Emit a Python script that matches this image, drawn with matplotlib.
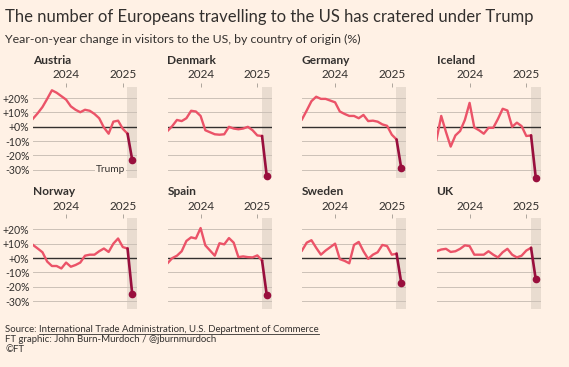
import numpy as np
import matplotlib
matplotlib.use("Agg")
import matplotlib.pyplot as plt
from matplotlib.lines import Line2D

plt.rcParams['font.family'] = ['Lato', 'DejaVu Sans']

# months relative to Jan 2024 (0 = Jan 2024), Jun 2023 .. Mar 2025
months = np.arange(-7, 15)

countries = ["Austria", "Denmark", "Germany", "Iceland",
             "Norway", "Spain", "Sweden", "UK"]

austria = [5.7, 9.5, 13.8, 19.5, 25.5, 23.8, 21.4, 19.0, 14.3, 11.9, 10.2,
           11.9, 11.2, 9.0, 6.0, -0.5, -4.8, 3.6, 4.3, -1.4, -4.8, -23.3]
denmark = [-2.9, 0.5, 4.8, 4.0, 6.0, 11.2, 10.7, 7.6, -2.4, -3.8, -5.2,
           -5.5, -5.2, 0.0, -1.2, -1.7, -1.2, 0.0, -2.4, -6.0, -6.4, -34.5]
germany = [5.2, 11.4, 17.9, 21.0, 19.5, 19.5, 18.3, 17.1, 10.7, 9.0, 7.6,
           7.6, 6.0, 8.3, 4.0, 4.3, 3.6, 1.7, 0.7, -5.5, -8.8, -29.0]
iceland = [-9.0, 7.6, -3.6, -13.8, -6.0, -2.9, 4.8, 16.7, -0.5, -2.4, -4.8,
           -0.7, -0.7, 5.5, 12.6, 11.4, 0.0, 2.9, 0.5, -6.4, -6.0, -35.5]
norway = [9.2, 6.7, 4.1, -2.4, -5.5, -5.5, -7.2, -3.1, -6.0, -4.8, -3.1,
          1.7, 2.4, 2.4, 4.8, 6.7, 4.3, 10.1, 13.7, 7.7, 6.7, -25.3]
spain = [-3.6, 0.0, 1.7, 4.8, 12.0, 14.5, 13.7, 21.0, 8.9, 5.3, 1.7,
         10.4, 9.6, 14.0, 10.8, 0.7, 1.2, 0.7, 0.5, 1.9, -1.7, -25.8]
sweden = [5.3, 10.8, 12.5, 7.2, 2.4, 5.3, 7.7, 10.1, -0.7, -1.9, -3.6,
          9.2, 11.3, 4.8, -0.5, 2.4, 4.1, 9.2, 8.4, 2.4, 3.1, -17.3]
uk = [4.8, 6.0, 6.5, 4.3, 4.8, 6.5, 8.9, 8.4, 2.4, 2.4, 2.4,
      4.8, 2.4, 0.5, 4.1, 6.5, 2.4, 0.5, 1.7, 5.3, 7.2, -14.9]

series = [austria, denmark, germany, iceland, norway, spain, sweden, uk]

yticks = [20, 10, 0, -10, -20, -30]
ytick_labels = ["+20%", "+10%", "+0%", "-10%", "-20%", "-30%"]
year_ticks = [0, 12]
year_labels = ["2024", "2025"]

bg = "#fff1e5"
txt = "#33302e"
red = "#eb5368"
dark = "#990f3d"
band = "#e9dcd0"
grid = "#ccc1b7"

W, H = 569, 367
fig = plt.figure(figsize=(W / 100, H / 100), dpi=100, facecolor=bg)

col_left = [33, 167.5, 302, 436.5]
row_top = [86.7, 218]
ax_w, ax_h = 104, 91

for k, (name, vals) in enumerate(zip(countries, series)):
    r, c = divmod(k, 4)
    ax = fig.add_axes([col_left[c] / W, 1 - (row_top[r] + ax_h) / H,
                       ax_w / W, ax_h / H])
    ax.set_facecolor(bg)
    ax.set_xlim(-7, 15)
    ax.set_ylim(-35.5, 28)
    ax.axvspan(12.9, 15, color=band, lw=0, zorder=0)
    for yv in yticks:
        if yv == 0:
            ax.axhline(0, color=txt, lw=1.0, zorder=1)
        else:
            ax.axhline(yv, color=grid, lw=0.7, zorder=1)
    ax.plot(months[:-1], vals[:-1], color=red, lw=1.7, zorder=3,
            solid_joinstyle='round')
    ax.plot(months[-2:], vals[-2:], color=dark, lw=1.9, zorder=4,
            solid_capstyle='round', clip_on=False)
    ax.plot(months[-1], vals[-1], 'o', color=dark, ms=4.5, zorder=5,
            clip_on=False)

    for s in ax.spines.values():
        s.set_visible(False)
    ax.set_xticks(year_ticks)
    ax.set_xticklabels(year_labels)
    ax.tick_params(axis='x', top=True, bottom=False, labeltop=True,
                   labelbottom=False, direction='out', length=3,
                   width=0.6, color="#a09991", pad=1.5, labelsize=8.5,
                   labelcolor=txt)
    ax.set_yticks(yticks)
    if c == 0:
        ax.set_yticklabels(ytick_labels)
        ax.tick_params(axis='y', length=0, pad=2.5, labelsize=7.6,
                       labelcolor=txt)
    else:
        ax.set_yticklabels([])
        ax.tick_params(axis='y', length=0)
    ax.text(0, 1.29, name, transform=ax.transAxes, fontsize=8.6,
            fontweight='bold', color=txt, ha='left', va='center')
    if name == "Austria":
        ax.text(12.4, -30, "Trump", ha='right', va='center', fontsize=7.3,
                color=txt, zorder=6,
                bbox=dict(fc=bg, ec='none', pad=0.6))

fig.text(5 / W, 1 - 17 / H,
         "The number of Europeans travelling to the US has cratered under Trump",
         fontsize=12.0, color=txt, ha='left', va='center')
fig.text(5 / W, 1 - 39 / H,
         "Year-on-year change in visitors to the US, by country of origin (%)",
         fontsize=8.9, color=txt, ha='left', va='center')

# footer
fs = 6.9
base1 = 1 - 332.5 / H
t1 = fig.text(5 / W, base1, "Source: ", fontsize=fs, color=txt,
              ha='left', va='baseline')
fig.canvas.draw()
bb = t1.get_window_extent()
t2 = fig.text(bb.x1 / W, base1,
              "International Trade Administration, U.S. Department of Commerce",
              fontsize=fs, color=txt, ha='left', va='baseline')
fig.canvas.draw()
bb2 = t2.get_window_extent()
uy = base1 - 1.3 / H
fig.add_artist(Line2D([bb2.x0 / W, bb2.x1 / W], [uy, uy],
                      color=txt, lw=0.6))
fig.text(5 / W, 1 - 342.5 / H, "FT graphic: John Burn-Murdoch / @jburnmurdoch",
         fontsize=fs, color=txt, ha='left', va='baseline')
fig.text(5 / W, 1 - 352.5 / H, "©FT", fontsize=fs, color=txt,
         ha='left', va='baseline')

fig.savefig("out.png", dpi=100, facecolor=bg)
